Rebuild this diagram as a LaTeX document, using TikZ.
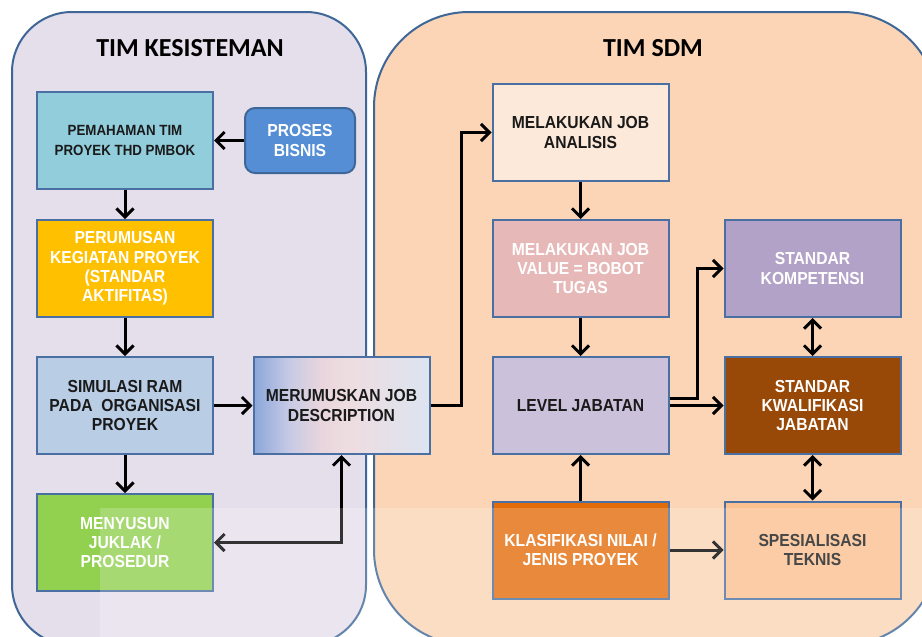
\documentclass[tikz,border=0pt]{standalone}
\usepackage{fontspec}
\usetikzlibrary{arrows.meta}
\newfontfamily\boxfont[FakeStretch=0.9]{Liberation Sans}
\newfontfamily\titlefont{Carlito}

\definecolor{panelL}{HTML}{E5DFEC}
\definecolor{panelR}{HTML}{FBD5B5}
\definecolor{panelEdge}{HTML}{3E6797}
\definecolor{boxEdge}{HTML}{4A6FA2}
\definecolor{txtDark}{HTML}{1A1A1A}
\definecolor{cPemahaman}{HTML}{92CDDC}
\definecolor{cProses}{HTML}{558ED5}
\definecolor{cPerumusan}{HTML}{FFC000}
\definecolor{cSimulasi}{HTML}{B9CDE5}
\definecolor{cMenyusun}{HTML}{92D050}
\definecolor{cAnalisis}{HTML}{FDE9D9}
\definecolor{cValue}{HTML}{E6B9B8}
\definecolor{cLevel}{HTML}{CCC1DA}
\definecolor{cKlasifikasi}{HTML}{E36C0A}
\definecolor{cKompetensi}{HTML}{B3A2C7}
\definecolor{cKwalifikasi}{HTML}{984807}
\definecolor{cSpesialisasi}{HTML}{FAC090}
\definecolor{jb1}{HTML}{8AA6DA}
\definecolor{jb2}{HTML}{C6CAE4}
\definecolor{jb3}{HTML}{E8D5DD}
\definecolor{jb4}{HTML}{EEDDE0}
\definecolor{jb5}{HTML}{DCE4F1}

\pgfdeclarehorizontalshading{jobdesc}{100bp}{%
  color(0bp)=(jb1); color(25bp)=(jb1); color(35bp)=(jb2);
  color(44bp)=(jb3); color(52bp)=(jb4); color(75bp)=(jb5); color(100bp)=(jb5)}

\tikzset{
  panel/.style={line width=2pt, draw=panelEdge},
  box/.style={draw=boxEdge, line width=2pt, minimum width=176pt, minimum height=97pt,
    align=center, font=\boxfont\bfseries\fontsize{17.4}{19.2}\selectfont, inner sep=2pt},
  darktxt/.style={text=txtDark},
  lighttxt/.style={text=white},
  paneltitle/.style={font=\titlefont\bfseries\fontsize{26}{30}\selectfont, text=black},
  arr/.style={line width=3pt, -{Straight Barb[length=8.5pt,width=17pt]}},
  darr/.style={line width=3pt, {Straight Barb[length=8.5pt,width=17pt]}-{Straight Barb[length=8.5pt,width=17pt]}},
}

\begin{document}
\begin{tikzpicture}[x=1pt,y=-1pt]
\useasboundingbox (0,0) rectangle (922,637);
\clip (0,0) rectangle (922,637);

% team panels
\draw[panel, fill=panelL, rounded corners=60pt] (12,12) rectangle (366,645);
\draw[panel, fill=panelR, rounded corners=95pt] (374,12) rectangle (938,645);
\node[paneltitle] (tk) at (190,48) {TIM KESISTEMAN};
\node[paneltitle] (ts) at (653,48) {TIM SDM};

% left column
\node[box, darktxt, fill=cPemahaman, font=\boxfont\bfseries\fontsize{14.8}{19.5}\selectfont]
  (pemahaman) at (125,140.5) {PEMAHAMAN TIM\\PROYEK THD PMBOK};
\node[box, lighttxt, fill=cProses, draw=panelEdge, minimum width=110pt, minimum height=65pt,
  rounded corners=10pt] (proses) at (300,140.5) {PROSES\\BISNIS};
\node[box, lighttxt, fill=cPerumusan] (perumusan) at (125,268.5)
  {PERUMUSAN\\KEGIATAN PROYEK\\(STANDAR\\AKTIFITAS)};
\node[box, darktxt, fill=cSimulasi] (simulasi) at (125,405.5)
  {SIMULASI RAM\\PADA\ \ ORGANISASI\\PROYEK};
\node[box, lighttxt, fill=cMenyusun] (menyusun) at (125,542.5)
  {MENYUSUN\\JUKLAK /\\PROSEDUR};
\node[box, darktxt, shading=jobdesc] (merumuskan) at (341.5,405.5)
  {MERUMUSKAN JOB\\DESCRIPTION};

% right columns
\node[box, darktxt, fill=cAnalisis] (analisis) at (580.5,132.5) {MELAKUKAN JOB\\ANALISIS};
\node[box, lighttxt, fill=cValue] (value) at (580.5,268.5) {MELAKUKAN JOB\\VALUE = BOBOT\\TUGAS};
\node[box, darktxt, fill=cLevel] (level) at (580.5,405.5) {LEVEL JABATAN};
\node[box, lighttxt, fill=cKlasifikasi] (klasifikasi) at (580.5,550) {KLASIFIKASI NILAI /\\JENIS PROYEK};
\node[box, lighttxt, fill=cKompetensi] (kompetensi) at (812.5,268.5) {STANDAR\\KOMPETENSI};
\node[box, lighttxt, fill=cKwalifikasi] (kwalifikasi) at (812.5,405.5) {STANDAR\\KWALIFIKASI\\JABATAN};
\node[box, darktxt, fill=cSpesialisasi] (spesialisasi) at (812.5,550) {SPESIALISASI\\TEKNIS};

% connectors
\draw[arr] (proses) -- (pemahaman);
\draw[arr] (pemahaman) -- (perumusan);
\draw[arr] (perumusan) -- (simulasi);
\draw[arr] (simulasi) -- (merumuskan);
\draw[arr] (simulasi) -- (menyusun);
\draw[darr] (merumuskan.south) |- (menyusun.east);
\draw[arr] (merumuskan.east) -- ++(31,0) |- (analisis.west);
\draw[arr] (analisis) -- (value);
\draw[arr] (value) -- (level);
\draw[arr] (klasifikasi) -- (level);
\draw[arr] (klasifikasi) -- (spesialisasi);
\draw[arr] (level) -- (kwalifikasi);
\draw[arr] ([yshift=7pt]level.east) -- ++(28,0) |- (kompetensi.west);
\draw[darr] (kompetensi) -- (kwalifikasi);
\draw[darr] (kwalifikasi) -- (spesialisasi);

% pale band across the lower part
\fill[white, opacity=0.2] (100,508) rectangle (922,637);
\end{tikzpicture}
\end{document}
